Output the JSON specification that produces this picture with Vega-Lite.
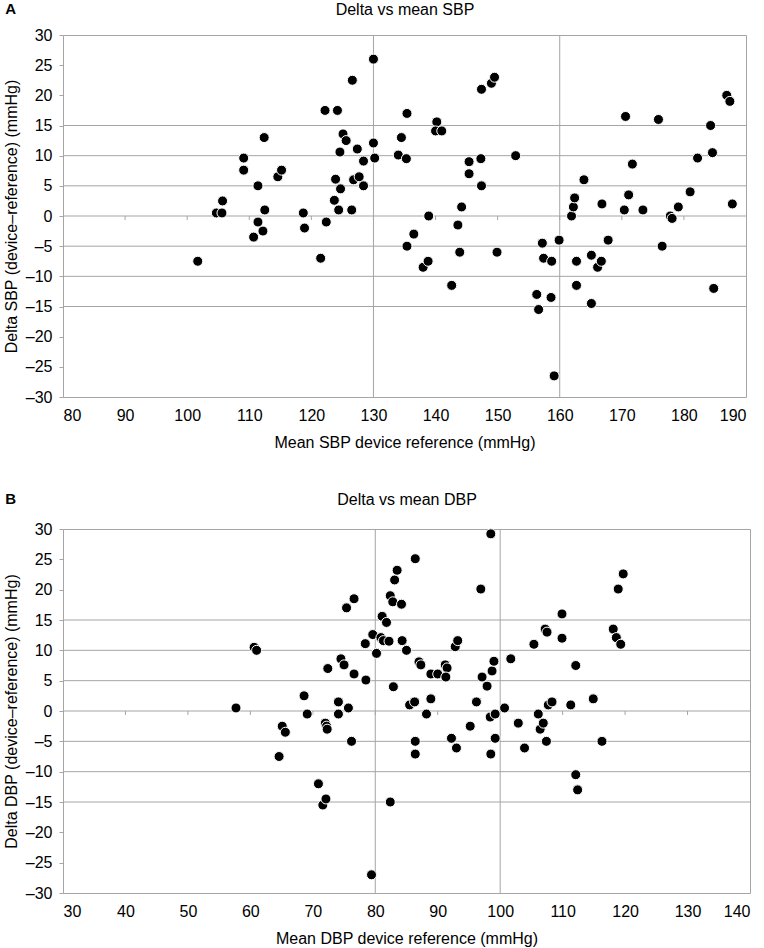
{
  "$schema": "https://vega.github.io/schema/vega-lite/v6.json",
  "background": "white",
  "padding": {"left": 2, "top": 0, "right": 2, "bottom": 2},
  "bounds": "flush",
  "spacing": 132,
  "config": {
    "font": "Liberation Sans",
    "view": {"stroke": "#a5a5a5", "strokeWidth": 1},
    "axis": {"labelFont": "Liberation Sans", "titleFont": "Liberation Sans", "labelFontSize": 16, "titleFontSize": 16, "labelColor": "#000000", "titleColor": "#000000", "titleFontWeight": "normal", "grid": false, "domain": false, "tickColor": "#a5a5a5"},
    "axisX": {"ticks": false, "labelPadding": 10, "titlePadding": 11},
    "axisY": {"tickSize": 4, "labelPadding": 7, "titlePadding": 6}
  },
  "vconcat": [
    {
      "width": 683,
      "height": 362,
      "title": {"text": "A", "anchor": "start", "frame": "bounds", "fontWeight": "bold", "fontSize": 15, "font": "Liberation Sans", "baseline": "alphabetic", "offset": 0, "dy": 28, "dx": 2, "color": "#000000"},
      "resolve": {"axis": {"x": "independent", "y": "independent"}},
      "layer": [
        {
          "data": {"values": [{"delta": -15}, {"delta": -10}, {"delta": -5}, {"delta": 0}, {"delta": 5}, {"delta": 10}, {"delta": 15}]},
          "mark": {"type": "rule", "color": "#a5a5a5", "strokeWidth": 1},
          "encoding": {"y": {"field": "delta", "type": "quantitative", "scale": {"domain": [-30, 30], "nice": false}, "axis": null}}
        },
        {
          "data": {"values": [{"mean": 130}, {"mean": 160}]},
          "mark": {"type": "rule", "color": "#a5a5a5", "strokeWidth": 1},
          "encoding": {"x": {"field": "mean", "type": "quantitative", "scale": {"domain": [80, 190], "nice": false, "zero": false}, "axis": {"orient": "top", "title": "Delta vs mean SBP", "labels": false, "ticks": false, "domain": false, "titlePadding": 21, "titleBaseline": "alphabetic"}}}
        },
        {
          "data": {"values": [{"mean": 90}, {"mean": 100}, {"mean": 110}, {"mean": 120}, {"mean": 130}, {"mean": 140}, {"mean": 150}, {"mean": 160}, {"mean": 170}, {"mean": 180}]},
          "mark": {"type": "tick", "orient": "vertical", "color": "#a5a5a5", "size": 4, "thickness": 1, "yOffset": 2, "opacity": 1},
          "encoding": {"x": {"field": "mean", "type": "quantitative", "scale": {"domain": [80, 190], "nice": false, "zero": false}, "axis": null}, "y": {"datum": 0, "type": "quantitative", "axis": null}}
        },
        {
          "data": {"values": [
            {"mean": 101.7, "delta": -7.5}, {"mean": 104.7, "delta": 0.5}, {"mean": 105.6, "delta": 0.5}, {"mean": 105.7, "delta": 2.5},
            {"mean": 109.1, "delta": 9.6}, {"mean": 109.1, "delta": 7.6}, {"mean": 110.7, "delta": -3.5}, {"mean": 111.4, "delta": 5},
            {"mean": 111.4, "delta": -1}, {"mean": 112.2, "delta": -2.5}, {"mean": 112.4, "delta": 13}, {"mean": 112.5, "delta": 1},
            {"mean": 114.6, "delta": 6.5}, {"mean": 115.2, "delta": 7.6}, {"mean": 118.7, "delta": 0.5}, {"mean": 118.9, "delta": -2},
            {"mean": 121.5, "delta": -7}, {"mean": 122.2, "delta": 17.5}, {"mean": 122.4, "delta": -1}, {"mean": 123.7, "delta": 2.6},
            {"mean": 123.9, "delta": 6.1}, {"mean": 124.2, "delta": 17.5}, {"mean": 124.4, "delta": 1}, {"mean": 124.6, "delta": 10.6},
            {"mean": 124.7, "delta": 4.5}, {"mean": 125.1, "delta": 13.6}, {"mean": 125.6, "delta": 12.5}, {"mean": 126.5, "delta": 1},
            {"mean": 126.6, "delta": 22.5}, {"mean": 126.8, "delta": 6}, {"mean": 127.4, "delta": 11.1}, {"mean": 127.7, "delta": 6.5},
            {"mean": 128.4, "delta": 9.1}, {"mean": 128.4, "delta": 5}, {"mean": 130.0, "delta": 26}, {"mean": 130.0, "delta": 12.1},
            {"mean": 130.2, "delta": 9.6}, {"mean": 134.0, "delta": 10.1}, {"mean": 134.5, "delta": 13}, {"mean": 135.4, "delta": 17},
            {"mean": 135.3, "delta": 9.5}, {"mean": 135.4, "delta": -5}, {"mean": 136.5, "delta": -3}, {"mean": 138.0, "delta": -8.5},
            {"mean": 138.8, "delta": -7.5}, {"mean": 138.9, "delta": 0}, {"mean": 140.2, "delta": 15.6}, {"mean": 140.0, "delta": 14.1},
            {"mean": 141.0, "delta": 14.1}, {"mean": 142.6, "delta": -11.5}, {"mean": 143.6, "delta": -1.5}, {"mean": 143.9, "delta": -6},
            {"mean": 144.2, "delta": 1.5}, {"mean": 145.4, "delta": 9}, {"mean": 145.4, "delta": 7}, {"mean": 147.3, "delta": 9.5},
            {"mean": 147.4, "delta": 5}, {"mean": 147.4, "delta": 21}, {"mean": 149.0, "delta": 22}, {"mean": 149.5, "delta": 23},
            {"mean": 149.9, "delta": -6}, {"mean": 152.9, "delta": 10}, {"mean": 156.3, "delta": -13}, {"mean": 156.6, "delta": -15.5},
            {"mean": 157.2, "delta": -4.5}, {"mean": 157.4, "delta": -7}, {"mean": 158.6, "delta": -13.5}, {"mean": 158.7, "delta": -7.5},
            {"mean": 159.1, "delta": -26.5}, {"mean": 159.9, "delta": -4}, {"mean": 161.9, "delta": 0}, {"mean": 162.2, "delta": 1.5},
            {"mean": 162.4, "delta": 3}, {"mean": 162.7, "delta": -7.5}, {"mean": 162.7, "delta": -11.5}, {"mean": 163.9, "delta": 6},
            {"mean": 165.1, "delta": -6.5}, {"mean": 165.1, "delta": -14.5}, {"mean": 166.1, "delta": -8.5}, {"mean": 166.7, "delta": -7.5},
            {"mean": 166.8, "delta": 2}, {"mean": 167.8, "delta": -4}, {"mean": 170.4, "delta": 1}, {"mean": 170.6, "delta": 16.5},
            {"mean": 171.1, "delta": 3.5}, {"mean": 171.7, "delta": 8.6}, {"mean": 173.4, "delta": 1}, {"mean": 175.9, "delta": 16},
            {"mean": 176.5, "delta": -5}, {"mean": 177.8, "delta": 0}, {"mean": 178.1, "delta": -0.4}, {"mean": 179.1, "delta": 1.5},
            {"mean": 181.0, "delta": 4}, {"mean": 182.2, "delta": 9.6}, {"mean": 184.3, "delta": 15}, {"mean": 184.6, "delta": 10.5},
            {"mean": 184.8, "delta": -12}, {"mean": 186.9, "delta": 20}, {"mean": 187.4, "delta": 19}, {"mean": 187.8, "delta": 2}
          ]},
          "mark": {"type": "circle", "size": 100, "color": "#000000", "opacity": 1, "stroke": "#ffffff", "strokeWidth": 1},
          "encoding": {
            "x": {"field": "mean", "type": "quantitative", "scale": {"domain": [80, 190], "nice": false, "zero": false}, "axis": {"orient": "bottom", "title": "Mean SBP device reference (mmHg)", "values": [80, 90, 100, 110, 120, 130, 140, 150, 160, 170, 180, 190]}},
            "y": {"field": "delta", "type": "quantitative", "scale": {"domain": [-30, 30], "nice": false}, "axis": {"orient": "left", "title": "Delta SBP (device–reference) (mmHg)", "values": [-30, -25, -20, -15, -10, -5, 0, 5, 10, 15, 20, 25, 30], "labelExpr": "datum.value < 0 ? '–' + (-datum.value) : datum.label"}}
          }
        }
      ]
    },
    {
      "width": 687,
      "height": 364,
      "title": {"text": "B", "anchor": "start", "frame": "bounds", "fontWeight": "bold", "fontSize": 15, "font": "Liberation Sans", "baseline": "alphabetic", "offset": 0, "dy": 28, "dx": 2, "color": "#000000"},
      "resolve": {"axis": {"x": "independent", "y": "independent"}},
      "layer": [
        {
          "data": {"values": [{"delta": -15}, {"delta": -10}, {"delta": -5}, {"delta": 0}, {"delta": 5}, {"delta": 10}, {"delta": 15}]},
          "mark": {"type": "rule", "color": "#a5a5a5", "strokeWidth": 1},
          "encoding": {"y": {"field": "delta", "type": "quantitative", "scale": {"domain": [-30, 30], "nice": false}, "axis": null}}
        },
        {
          "data": {"values": [{"mean": 80}, {"mean": 100}]},
          "mark": {"type": "rule", "color": "#a5a5a5", "strokeWidth": 1},
          "encoding": {"x": {"field": "mean", "type": "quantitative", "scale": {"domain": [30, 140], "nice": false, "zero": false}, "axis": {"orient": "top", "title": "Delta vs mean DBP", "labels": false, "ticks": false, "domain": false, "titlePadding": 25, "titleBaseline": "alphabetic"}}}
        },
        {
          "data": {"values": [{"mean": 40}, {"mean": 50}, {"mean": 60}, {"mean": 70}, {"mean": 80}, {"mean": 90}, {"mean": 100}, {"mean": 110}, {"mean": 120}, {"mean": 130}]},
          "mark": {"type": "tick", "orient": "vertical", "color": "#a5a5a5", "size": 4, "thickness": 1, "yOffset": 2, "opacity": 1},
          "encoding": {"x": {"field": "mean", "type": "quantitative", "scale": {"domain": [30, 140], "nice": false, "zero": false}, "axis": null}, "y": {"datum": 0, "type": "quantitative", "axis": null}}
        },
        {
          "data": {"values": [
            {"mean": 57.7, "delta": 0.5}, {"mean": 60.6, "delta": 10.5}, {"mean": 61.0, "delta": 10}, {"mean": 64.6, "delta": -7.5},
            {"mean": 65.1, "delta": -2.5}, {"mean": 65.6, "delta": -3.5}, {"mean": 68.6, "delta": 2.5}, {"mean": 69.1, "delta": -0.5},
            {"mean": 70.9, "delta": -12}, {"mean": 71.6, "delta": -15.5}, {"mean": 72.1, "delta": -14.5}, {"mean": 72.0, "delta": -2},
            {"mean": 72.2, "delta": -2.5}, {"mean": 72.3, "delta": -3}, {"mean": 72.4, "delta": 7}, {"mean": 74.1, "delta": 1.5},
            {"mean": 74.1, "delta": -0.5}, {"mean": 75.7, "delta": 0.5}, {"mean": 74.5, "delta": 8.6}, {"mean": 75.0, "delta": 7.6},
            {"mean": 75.4, "delta": 17}, {"mean": 76.6, "delta": 18.5}, {"mean": 76.2, "delta": -5}, {"mean": 76.6, "delta": 6.1},
            {"mean": 78.5, "delta": 5.1}, {"mean": 78.4, "delta": 11.1}, {"mean": 79.4, "delta": -27}, {"mean": 79.6, "delta": 12.6},
            {"mean": 80.2, "delta": 9.5}, {"mean": 80.9, "delta": 12.1}, {"mean": 81.3, "delta": 11.6}, {"mean": 81.1, "delta": 15.6},
            {"mean": 81.8, "delta": 14.6}, {"mean": 82.2, "delta": 11.5}, {"mean": 82.4, "delta": 19}, {"mean": 82.8, "delta": 18},
            {"mean": 82.4, "delta": -15}, {"mean": 82.9, "delta": 4}, {"mean": 83.1, "delta": 21.6}, {"mean": 83.5, "delta": 23.2},
            {"mean": 84.2, "delta": 17.6}, {"mean": 84.3, "delta": 11.6}, {"mean": 85.0, "delta": 10}, {"mean": 85.5, "delta": 1},
            {"mean": 86.3, "delta": 1.5}, {"mean": 86.4, "delta": 25.1}, {"mean": 86.4, "delta": -5}, {"mean": 86.4, "delta": -7.1},
            {"mean": 87.0, "delta": 8.1}, {"mean": 87.3, "delta": 7.6}, {"mean": 88.2, "delta": -0.5}, {"mean": 88.9, "delta": 2},
            {"mean": 88.9, "delta": 6.1}, {"mean": 90.0, "delta": 6.1}, {"mean": 91.2, "delta": 7.6}, {"mean": 91.5, "delta": 7.1},
            {"mean": 91.3, "delta": 5.6}, {"mean": 92.2, "delta": -4.5}, {"mean": 92.8, "delta": 10.6}, {"mean": 93.2, "delta": 11.6},
            {"mean": 93.0, "delta": -6.1}, {"mean": 95.2, "delta": -2.5}, {"mean": 96.2, "delta": 1.5}, {"mean": 96.9, "delta": 20.1},
            {"mean": 97.1, "delta": 5.6}, {"mean": 97.9, "delta": 4.1}, {"mean": 98.4, "delta": -1}, {"mean": 98.5, "delta": 29.2},
            {"mean": 98.5, "delta": -7.1}, {"mean": 98.7, "delta": 6.6}, {"mean": 99.0, "delta": 8.2}, {"mean": 99.2, "delta": -0.5},
            {"mean": 99.2, "delta": -4.5}, {"mean": 100.7, "delta": 0.5}, {"mean": 101.7, "delta": 8.6}, {"mean": 102.9, "delta": -2},
            {"mean": 103.9, "delta": -6.1}, {"mean": 105.4, "delta": 11}, {"mean": 106.1, "delta": -0.5}, {"mean": 106.4, "delta": -3},
            {"mean": 106.9, "delta": -2}, {"mean": 107.2, "delta": 13.5}, {"mean": 107.5, "delta": 13}, {"mean": 107.4, "delta": -5},
            {"mean": 107.7, "delta": 1}, {"mean": 108.3, "delta": 1.5}, {"mean": 109.9, "delta": 16}, {"mean": 109.9, "delta": 12},
            {"mean": 111.3, "delta": 1}, {"mean": 112.1, "delta": 7.5}, {"mean": 112.1, "delta": -10.5}, {"mean": 112.4, "delta": -13},
            {"mean": 114.9, "delta": 2}, {"mean": 116.3, "delta": -5}, {"mean": 118.1, "delta": 13.5}, {"mean": 118.6, "delta": 12.1},
            {"mean": 118.9, "delta": 20.1}, {"mean": 119.3, "delta": 11}, {"mean": 119.7, "delta": 22.6}
          ]},
          "mark": {"type": "circle", "size": 100, "color": "#000000", "opacity": 1, "stroke": "#ffffff", "strokeWidth": 1},
          "encoding": {
            "x": {"field": "mean", "type": "quantitative", "scale": {"domain": [30, 140], "nice": false, "zero": false}, "axis": {"orient": "bottom", "title": "Mean DBP device reference (mmHg)", "values": [30, 40, 50, 60, 70, 80, 90, 100, 110, 120, 130, 140]}},
            "y": {"field": "delta", "type": "quantitative", "scale": {"domain": [-30, 30], "nice": false}, "axis": {"orient": "left", "title": "Delta DBP (device–reference) (mmHg)", "values": [-30, -25, -20, -15, -10, -5, 0, 5, 10, 15, 20, 25, 30], "labelExpr": "datum.value < 0 ? '–' + (-datum.value) : datum.label"}}
          }
        }
      ]
    }
  ]
}
